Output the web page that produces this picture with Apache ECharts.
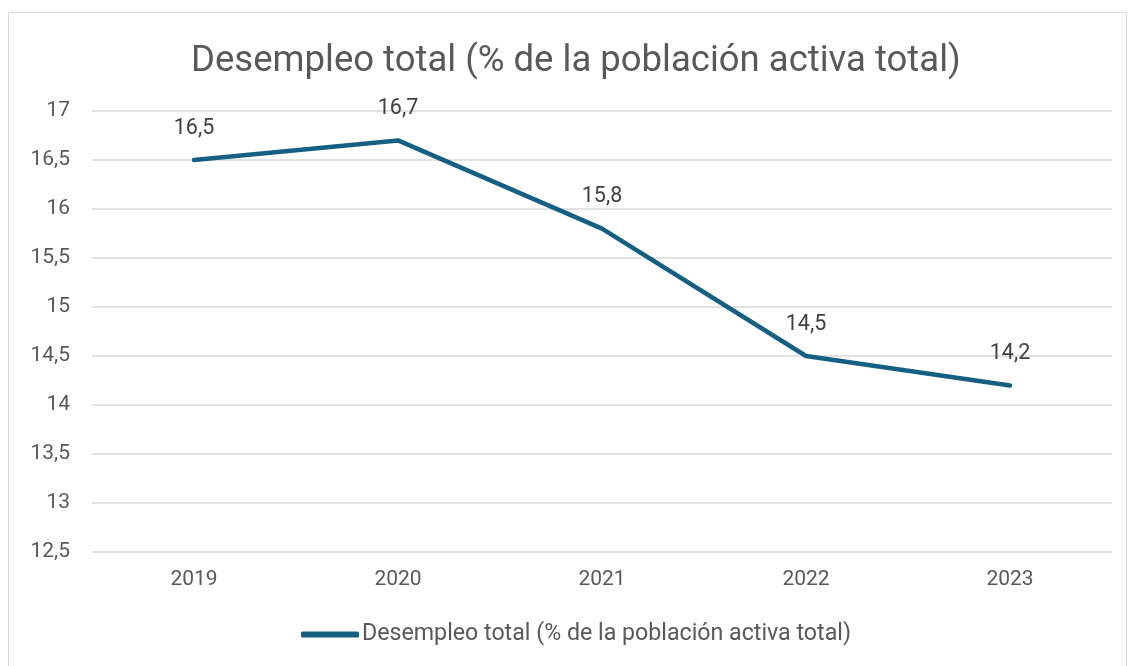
<!DOCTYPE html>
<html lang="es">
<head>
<meta charset="utf-8">
<script src="https://cdn.jsdelivr.net/npm/echarts@6/dist/echarts.min.js"></script>
<style>
  html, body { margin: 0; padding: 0; background: #fff; }
  #frame { position: absolute; left: 8px; top: 12px; width: 1119px; height: 660px; border: 1px solid #d9d9d9; box-sizing: border-box; }
  #chart { position: absolute; left: 0; top: 0; width: 1130px; height: 666px; }
</style>
</head>
<body>
<div id="frame"></div>
<div id="chart"></div>
<script type="text/javascript">
    var years = ['2019', '2020', '2021', '2022', '2023'];
    var desempleo = [16.5, 16.7, 15.8, 14.5, 14.2];
    var serieName = 'Desempleo total (% de la población activa total)';

    function coma(v) {
        return String(v).replace('.', ',');
    }

    var myChart = echarts.init(document.getElementById('chart'));

    var option = {
        animation: false,
        textStyle: { fontFamily: 'Roboto' },
        title: {
            text: serieName,
            left: 186,
            top: 38,
            textStyle: { fontSize: 36.5, fontWeight: 'normal', color: '#595959', fontFamily: 'Roboto' }
        },
        legend: {
            bottom: 15,
            left: 296,
            itemWidth: 58,
            itemHeight: 6,
            itemGap: 4,
            icon: 'roundRect',
            textStyle: { fontSize: 23.2, color: '#595959', padding: [0, 0, 0, -2] },
            data: [serieName]
        },
        grid: { left: 92, right: 18, top: 111, bottom: 114 },
        xAxis: {
            type: 'category',
            data: years,
            boundaryGap: true,
            axisLine: { show: false },
            axisTick: { show: false },
            axisLabel: { fontSize: 21, color: '#595959', margin: 17 }
        },
        yAxis: {
            type: 'value',
            min: 12.5,
            max: 17,
            interval: 0.5,
            axisLine: { show: false },
            axisTick: { show: false },
            splitLine: { lineStyle: { color: '#d9d9d9', width: 1.5 } },
            axisLabel: { fontSize: 21, color: '#595959', margin: 22, formatter: coma }
        },
        series: [{
            name: serieName,
            type: 'line',
            data: desempleo,
            symbol: 'circle',
            symbolSize: 1,
            lineStyle: { color: '#156082', width: 4.5, cap: 'round', join: 'round' },
            itemStyle: { color: '#156082' },
            label: {
                show: true,
                position: 'top',
                distance: 20,
                fontSize: 21.5,
                color: '#404040',
                formatter: function (p) { return coma(p.value); }
            }
        }]
    };

    myChart.setOption(option);
</script>
</body>
</html>
